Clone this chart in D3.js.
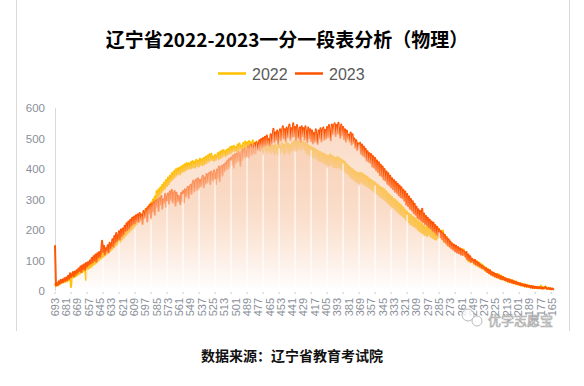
<!DOCTYPE html>
<html lang="zh">
  <head>
    <meta charset="UTF-8" />
    <title>辽宁省2022-2023一分一段表分析（物理）</title>
    <script src="https://cdn.jsdelivr.net/npm/d3@7"></script>
    <style>
      body { margin: 0; background: #fff; }
      div svg { display: block; }
    </style>
  </head>

  <body>
    <div id="svg"></div>
    <script>
      // 画布
      const width = 584;
      const height = 386;

      // 分数（类别）：693 → 163
      const scores = d3.range(693, 162, -1);

      // 每个分数的人数（每行 12 个分数）
      const v2022 = [
        25, 16, 24, 18, 28, 22, 30, 26, 32, 28, 36, 30,
        38, 32, 42, 36, 46, 13, 50, 44, 52, 46, 56, 50,
        60, 54, 64, 58, 68, 62, 72, 66, 76, 36, 80, 72,
        84, 76, 88, 80, 92, 86, 100, 90, 106, 96, 110, 102,
        114, 106, 122, 112, 126, 116, 134, 122, 138, 128, 142, 132,
        150, 138, 156, 144, 162, 150, 168, 156, 174, 160, 180, 168,
        190, 174, 196, 182, 202, 188, 208, 194, 214, 200, 220, 206,
        230, 214, 236, 220, 240, 226, 246, 232, 252, 238, 258, 244,
        268, 250, 274, 258, 282, 264, 290, 272, 300, 282, 310, 292,
        328, 306, 334, 314, 340, 322, 348, 330, 356, 336, 364, 344,
        372, 350, 378, 360, 386, 366, 392, 372, 398, 378, 402, 384,
        404, 382, 408, 390, 412, 392, 416, 396, 420, 400, 418, 402,
        422, 402, 426, 406, 424, 404, 430, 410, 428, 408, 434, 414,
        432, 412, 436, 416, 440, 420, 444, 424, 448, 428, 450, 430,
        440, 426, 446, 430, 442, 452, 432, 456, 436, 460, 440, 462,
        456, 442, 462, 446, 466, 450, 472, 452, 474, 458, 476, 460,
        472, 456, 480, 462, 484, 466, 476, 460, 486, 468, 490, 470,
        488, 468, 492, 464, 488, 470, 494, 466, 486, 468, 490, 462,
        484, 460, 488, 466, 482, 456, 486, 462, 480, 452, 484, 460,
        478, 452, 482, 458, 476, 448, 480, 454, 474, 444, 478, 452,
        472, 486, 454, 480, 448, 476, 488, 456, 482, 450, 478, 458,
        486, 462, 492, 466, 488, 460, 490, 468, 494, 462, 488, 470,
        490, 462, 484, 452, 480, 446, 476, 444, 472, 440, 470, 438,
        466, 436, 462, 430, 458, 426, 456, 424, 452, 420, 450, 418,
        446, 414, 442, 410, 448, 416, 444, 408, 440, 406, 436, 404,
        440, 406, 436, 402, 432, 398, 428, 394, 424, 388, 416, 384,
        410, 376, 404, 370, 400, 366, 394, 360, 390, 356, 386, 354,
        388, 356, 386, 352, 382, 348, 378, 344, 374, 340, 368, 336,
        364, 330, 360, 326, 356, 320, 350, 316, 346, 310, 340, 306,
        338, 302, 334, 296, 326, 290, 320, 284, 314, 278, 308, 274,
        302, 268, 298, 262, 292, 256, 286, 250, 280, 246, 274, 240,
        266, 232, 260, 226, 254, 220, 250, 216, 244, 212, 240, 208,
        234, 202, 230, 196, 224, 192, 220, 188, 214, 184, 210, 180,
        212, 184, 208, 178, 206, 174, 202, 170, 200, 168, 204, 174,
        204, 180, 196, 174, 198, 160, 184, 158, 176, 150, 168, 146,
        158, 142, 154, 136, 150, 132, 146, 130, 142, 126, 138, 122,
        138, 124, 136, 116, 126, 106, 116, 98, 112, 94, 106, 96,
        102, 88, 100, 84, 98, 82, 94, 78, 90, 74, 86, 72,
        80, 66, 76, 62, 72, 58, 68, 54, 62, 50, 58, 48,
        56, 44, 56, 42, 54, 40, 50, 38, 46, 36, 44, 34,
        40, 30, 39, 29, 37, 27, 35, 25, 33, 23, 31, 21,
        27, 20, 26, 18, 24, 17, 23, 15, 21, 14, 20, 13,
        17, 12, 16, 11, 15, 10, 14, 10, 14, 9, 13, 9,
        18, 8, 13, 8, 12, 15, 8, 7, 10, 7, 9, 6,
        8, 6, 5
      ];

      const v2023 = [
        150, 18, 26, 20, 32, 24, 36, 28, 38, 30, 42, 34,
        44, 36, 50, 40, 58, 46, 52, 62, 48, 64, 54, 68,
        60, 74, 66, 80, 62, 84, 72, 88, 70, 92, 80, 94,
        86, 100, 90, 108, 94, 114, 100, 120, 96, 124, 110, 128,
        112, 130, 165, 128, 148, 120, 140, 132, 150, 126, 158, 140,
        150, 170, 146, 180, 158, 190, 164, 175, 196, 170, 202, 180,
        205, 186, 214, 196, 222, 200, 228, 206, 234, 214, 240, 220,
        244, 222, 248, 230, 252, 226, 256, 236, 250, 220, 262, 240,
        252, 270, 228, 276, 256, 284, 240, 286, 262, 292, 250, 296,
        278, 300, 262, 306, 284, 312, 270, 300, 290, 318, 276, 304,
        320, 286, 326, 300, 332, 290, 318, 328, 280, 322, 294, 312,
        300, 284, 322, 296, 328, 290, 334, 310, 330, 342, 304, 338,
        348, 318, 352, 362, 326, 356, 366, 332, 370, 340, 364, 344,
        368, 378, 340, 372, 352, 384, 356, 380, 388, 350, 392, 372,
        362, 396, 376, 350, 398, 372, 408, 360, 402, 410, 378, 414,
        392, 420, 398, 428, 402, 434, 408, 438, 414, 444, 404, 448,
        420, 450, 426, 456, 432, 410, 458, 430, 464, 440, 468, 436,
        448, 474, 438, 470, 480, 446, 476, 452, 484, 450, 488, 462,
        466, 494, 460, 498, 470, 502, 474, 506, 478, 510, 482, 498,
        476, 514, 484, 508, 532, 488, 520, 496, 526, 482, 516, 530,
        494, 524, 540, 500, 530, 492, 536, 504, 528, 546, 496, 534,
        506, 550, 508, 538, 494, 544, 512, 500, 536, 490, 540, 508,
        534, 496, 540, 510, 488, 536, 502, 530, 492, 526, 484, 518,
        490, 530, 498, 482, 526, 500, 534, 490, 524, 536, 496, 528,
        500, 538, 506, 544, 512, 494, 546, 514, 540, 550, 508, 544,
        516, 552, 520, 502, 546, 512, 538, 498, 530, 490, 526, 500,
        512, 490, 520, 480, 514, 486, 500, 470, 494, 462, 484, 478,
        486, 450, 480, 444, 474, 440, 466, 428, 458, 424, 452, 420,
        448, 408, 442, 404, 436, 396, 428, 390, 422, 380, 414, 376,
        408, 366, 400, 362, 392, 352, 386, 346, 378, 340, 370, 334,
        364, 326, 358, 322, 352, 314, 346, 308, 340, 304, 332, 296,
        326, 284, 318, 278, 310, 270, 302, 264, 294, 256, 286, 250,
        276, 240, 268, 236, 262, 230, 270, 226, 254, 220, 246, 216,
        240, 210, 234, 206, 228, 198, 224, 194, 216, 186, 210, 182,
        202, 176, 196, 170, 190, 164, 184, 158, 176, 150, 170, 146,
        162, 140, 156, 136, 152, 130, 148, 126, 144, 124, 140, 120,
        136, 118, 132, 126, 112, 128, 104, 120, 100, 114, 96, 106,
        100, 92, 102, 88, 96, 84, 92, 80, 86, 76, 82, 74,
        78, 68, 74, 62, 70, 58, 68, 54, 62, 52, 60, 48,
        56, 46, 54, 44, 50, 40, 48, 38, 45, 36, 42, 34,
        40, 32, 38, 30, 36, 28, 34, 26, 31, 25, 29, 23,
        27, 21, 25, 19, 23, 18, 21, 16, 20, 15, 18, 14,
        17, 12, 16, 11, 15, 10, 14, 10, 13, 9, 13, 9,
        12, 8, 11, 8, 11, 13, 8, 7, 10, 7, 9, 6,
        8, 6, 5
      ];

      const years = ["2022", "2023"];
      const colors = ["#FFC000", "#FF5200"];
      const yTicks = [0, 100, 200, 300, 400, 500, 600];
      const labelStep = 12; // 横轴每 12 分一个标签
      const tickStep = 17; // 刻度线间隔

      const series = [v2022, v2023];

      // 比例尺
      const x = d3.scalePoint().domain(scores).range([55, 554]);
      const y = d3.scaleLinear().domain([0, 600]).range([291, 108]);

      const svg = d3
        .select("#svg")
        .append("svg")
        .attr("width", width)
        .attr("height", height)
        .style("font-family", "'Liberation Sans', Arial, sans-serif");

      // 渐变填充
      const grad = svg
        .append("defs")
        .append("linearGradient")
        .attr("id", "fillGrad")
        .attr("gradientUnits", "userSpaceOnUse")
        .attr("x1", 0)
        .attr("x2", 0)
        .attr("y1", y(560))
        .attr("y2", y(0));
      grad.append("stop").attr("offset", 0).attr("stop-color", "#F8CBAD").attr("stop-opacity", 0.72);
      grad.append("stop").attr("offset", 0.55).attr("stop-color", "#F8CBAD").attr("stop-opacity", 0.4);
      grad.append("stop").attr("offset", 1).attr("stop-color", "#F8CBAD").attr("stop-opacity", 0);

      // 图表边框
      svg.append("line").attr("x1", 16.5).attr("x2", 16.5).attr("y1", 0).attr("y2", 331).attr("stroke", "#d9d9d9");
      svg.append("line").attr("x1", 569.5).attr("x2", 569.5).attr("y1", 0).attr("y2", 331).attr("stroke", "#d9d9d9");

      // 标题
      svg
        .append("text")
        .attr("x", 287)
        .attr("y", 47)
        .attr("text-anchor", "middle")
        .attr("font-family", "'Noto Sans CJK SC', sans-serif")
        .attr("font-weight", 700)
        .attr("font-size", 19)
        .attr("fill", "#000")
        .text("辽宁省2022-2023一分一段表分析（物理）");

      // 图例
      const legend = svg
        .selectAll(".legend")
        .data(years)
        .enter()
        .append("g")
        .attr("transform", (d, i) => `translate(${218 + i * 77},73.5)`);
      legend
        .append("line")
        .attr("x1", 0)
        .attr("x2", 28)
        .attr("stroke", (d, i) => colors[i])
        .attr("stroke-width", 2.5);
      legend
        .append("text")
        .attr("x", 34)
        .attr("y", 6)
        .attr("font-size", 16)
        .attr("fill", "#595959")
        .text((d) => d);

      // 纵轴
      svg
        .append("line")
        .attr("x1", 55.5)
        .attr("x2", 55.5)
        .attr("y1", y(600))
        .attr("y2", y(0))
        .attr("stroke", "#d9d9d9");
      svg
        .selectAll(".ylab")
        .data(yTicks)
        .enter()
        .append("text")
        .attr("x", 45)
        .attr("y", (d) => y(d) + 4)
        .attr("text-anchor", "end")
        .attr("font-size", 11.5)
        .attr("fill", "#8a8f99")
        .text((d) => d);

      // 折线（先画线，再盖上半透明渐变面积）
      const line = d3
        .line()
        .x((d, i) => x(scores[i]))
        .y((d) => y(d));
      const area = d3
        .area()
        .x((d, i) => x(scores[i]))
        .y0(y(0))
        .y1((d) => y(d));

      svg
        .selectAll(".ln")
        .data(series)
        .enter()
        .append("path")
        .attr("d", line)
        .attr("fill", "none")
        .attr("stroke", (d, i) => colors[i])
        .attr("stroke-width", 2)
        .attr("stroke-linejoin", "round");

      svg
        .selectAll(".ar")
        .data(series)
        .enter()
        .append("path")
        .attr("d", area)
        .attr("fill", "url(#fillGrad)");

      // 刻度位置的白色竖线与刻度点
      const tickIdx = d3.range(0, scores.length, tickStep);
      svg
        .selectAll(".wl")
        .data(tickIdx.filter((i) => i > 0))
        .enter()
        .append("line")
        .attr("x1", (i) => x(scores[i]))
        .attr("x2", (i) => x(scores[i]))
        .attr("y1", y(0))
        .attr("y2", (i) => y(Math.min(v2022[i], v2023[i])) + 3)
        .attr("stroke", "#fff")
        .attr("stroke-opacity", 0.9)
        .attr("stroke-width", 1.2);
      svg
        .selectAll(".tk")
        .data(tickIdx)
        .enter()
        .append("line")
        .attr("x1", (i) => x(scores[i]))
        .attr("x2", (i) => x(scores[i]))
        .attr("y1", y(0) + 1)
        .attr("y2", y(0) + 3)
        .attr("stroke", "#c8c8c8");

      // 横轴标签
      svg
        .selectAll(".xlab")
        .data(scores.filter((d, i) => i % labelStep === 0))
        .enter()
        .append("text")
        .attr("transform", (d) => `translate(${x(d)},298) rotate(-90)`)
        .attr("dy", "0.35em")
        .attr("text-anchor", "end")
        .attr("font-size", 11)
        .attr("fill", "#8a8f99")
        .text((d) => d);

      // 水印
      const wm = svg.append("g").attr("opacity", 0.8);
      wm.append("circle").attr("cx", 468).attr("cy", 315).attr("r", 6).attr("fill", "#fff").attr("stroke", "#aaa");
      wm.append("circle").attr("cx", 477).attr("cy", 321).attr("r", 5).attr("fill", "#fff").attr("stroke", "#aaa");
      wm.append("text")
        .attr("x", 488)
        .attr("y", 325)
        .attr("font-family", "'Noto Sans CJK SC', sans-serif")
        .attr("font-size", 13)
        .attr("fill", "#fff")
        .attr("stroke", "#999")
        .attr("stroke-width", 0.7)
        .text("优学志愿宝");

      // 数据来源
      svg
        .append("text")
        .attr("x", 292)
        .attr("y", 361)
        .attr("text-anchor", "middle")
        .attr("font-family", "'Noto Sans CJK SC', sans-serif")
        .attr("font-weight", 700)
        .attr("font-size", 14)
        .attr("fill", "#111")
        .text("数据来源：辽宁省教育考试院");
    </script>
  </body>
</html>
